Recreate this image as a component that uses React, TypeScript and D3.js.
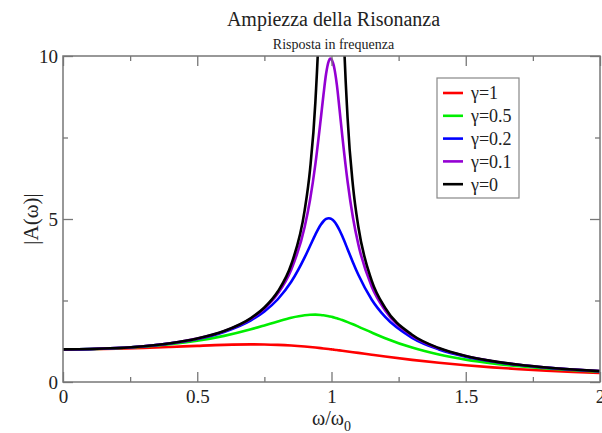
import { useEffect, useRef } from 'react'
import * as d3 from 'd3'

const W = 602
const H = 433

// omega / omega0 sample points
const xs = [0, 0.1, 0.2, 0.3, 0.4, 0.5, 0.6, 0.7, 0.75, 0.8, 0.85, 0.9, 0.92, 0.94, 0.96, 0.97, 0.98, 0.99, 0.995, 1.0,
  1.005, 1.01, 1.02, 1.03, 1.04, 1.06, 1.08, 1.1, 1.15, 1.2, 1.3, 1.4, 1.5, 1.6, 1.7, 1.8, 1.9, 2.0]

const g1 = [1, 1.005, 1.0198, 1.0436, 1.0748, 1.1094, 1.1399, 1.1546, 1.1517, 1.1399, 1.1184, 1.0871, 1.0721, 1.0558, 1.0382, 1.029, 1.0196, 1.0099, 1.005, 1,
  0.995, 0.9899, 0.9796, 0.9692, 0.9586, 0.937, 0.9151, 0.893, 0.8373, 0.7824, 0.6795, 0.5891, 0.5121, 0.4475, 0.3934, 0.348, 0.3098, 0.2774]

const g05 = [1, 1.0088, 1.0361, 1.0843, 1.1581, 1.2649, 1.4148, 1.6167, 1.7354, 1.8582, 1.9701, 2.0472, 2.062, 2.0653, 2.0561, 2.0467, 2.0342, 2.0186, 2.0096, 2.0,
  1.9897, 1.9786, 1.9547, 1.9283, 1.8998, 1.8375, 1.7697, 1.6986, 1.5168, 1.344, 1.0549, 0.8417, 0.686, 0.5704, 0.4825, 0.4142, 0.36, 0.3162]

const g02 = [1, 1.0099, 1.0408, 1.0965, 1.1851, 1.3216, 1.5357, 1.8908, 2.1621, 2.5384, 3.0728, 3.8208, 4.1722, 4.5225, 4.8218, 4.931, 5.001, 5.0252, 5.0188, 5.0,
  4.9689, 4.9261, 4.8086, 4.6552, 4.4756, 4.075, 3.6675, 3.288, 2.5245, 1.9952, 1.3562, 1.0, 0.7779, 0.6279, 0.5207, 0.4408, 0.3791, 0.3304]

const g01 = [1, 1.01, 1.0414, 1.0983, 1.1891, 1.3304, 1.5557, 1.9426, 2.2528, 2.7116, 3.4455, 4.7565, 5.5852, 6.6837, 8.068, 8.8038, 9.4609, 9.85, 9.92, 9.9,
  9.8, 9.65, 9.115, 8.3572, 7.5648, 6.1414, 5.0409, 4.2182, 2.9206, 2.1926, 1.4242, 1.0308, 0.7943, 0.6377, 0.527, 0.445, 0.3821, 0.3326]

// undamped: diverges at omega = omega0
const g0 = [1, 1.0101, 1.0417, 1.0989, 1.1905, 1.3333, 1.5625, 1.9608, 2.2857, 2.7778, 3.6036, 5.2632, 6.5104, 8.5911, 12.755, 16.92, 25.253, 50.251, 100.25, null,
  99.75, 49.751, 24.752, 16.42, 12.255, 8.0906, 6.0096, 4.7619, 3.1008, 2.2727, 1.4493, 1.0417, 0.8, 0.641, 0.5291, 0.4464, 0.3831, 0.3333]

const labels = ['γ=1', 'γ=0.5', 'γ=0.2', 'γ=0.1', 'γ=0']
const colors = ['#ff0000', '#00ee00', '#0000ff', '#9400d3', '#000000']
const series = [g1, g05, g02, g01, g0]

const xTicks = [0, 0.5, 1, 1.5, 2]
const xMinor = [0.25, 0.75, 1.25, 1.75]
const yTicks = [0, 5, 10]
const yMinor = [2.5, 7.5]

const FONT = '"Liberation Serif", "DejaVu Serif", serif'

export default function App() {
  const svgRef = useRef<SVGSVGElement>(null)

  useEffect(() => {
    document.body.style.margin = '0'
    if (!svgRef.current) return
    const svg = d3.select(svgRef.current)
    svg.selectAll('*').remove()

    const left = 63, right = 600, top = 56, bottom = 382
    const x = d3.scaleLinear().domain([0, 2]).range([left, right])
    const y = d3.scaleLinear().domain([0, 10]).range([bottom, top])

    svg.append('rect').attr('width', W).attr('height', H).attr('fill', '#fff')

    svg.append('defs').append('clipPath').attr('id', 'plot')
      .append('rect').attr('x', left).attr('y', top).attr('width', right - left).attr('height', bottom - top)

    // curves
    const line = d3.line<number | null>()
      .defined(d => d !== null)
      .x((_, i) => x(xs[i]))
      .y(d => y(d as number))
      .curve(d3.curveMonotoneX)

    const curves = svg.append('g').attr('clip-path', 'url(#plot)')
    series.forEach((s, i) => {
      curves.append('path')
        .attr('d', line(s))
        .attr('fill', 'none')
        .attr('stroke', colors[i])
        .attr('stroke-width', 2.6)
        .attr('stroke-linejoin', 'round')
    })

    // frame + ticks
    const axisColor = '#777'
    const styleAxis = (g: any) => {
      g.select('.domain').remove()
      g.selectAll('line').attr('stroke', axisColor).attr('stroke-width', 1.3)
      g.selectAll('text').attr('font-family', FONT).attr('font-size', 19).attr('fill', '#222')
    }

    svg.append('g').attr('transform', `translate(0,${bottom})`)
      .call(d3.axisBottom(x).tickValues(xTicks).tickSize(-10).tickSizeOuter(0).tickPadding(8).tickFormat(d3.format('')) as any)
      .call(styleAxis)
    svg.append('g').attr('transform', `translate(0,${bottom})`)
      .call(d3.axisBottom(x).tickValues(xMinor).tickSize(-5).tickFormat(() => '') as any)
      .call(styleAxis)
    svg.append('g').attr('transform', `translate(0,${top})`)
      .call(d3.axisTop(x).tickValues(xTicks).tickSize(-10).tickFormat(() => '') as any)
      .call(styleAxis)
    svg.append('g').attr('transform', `translate(0,${top})`)
      .call(d3.axisTop(x).tickValues(xMinor).tickSize(-5).tickFormat(() => '') as any)
      .call(styleAxis)

    svg.append('g').attr('transform', `translate(${left},0)`)
      .call(d3.axisLeft(y).tickValues(yTicks).tickSize(-10).tickPadding(5).tickFormat(d3.format('')) as any)
      .call(styleAxis)
    svg.append('g').attr('transform', `translate(${left},0)`)
      .call(d3.axisLeft(y).tickValues(yMinor).tickSize(-5).tickFormat(() => '') as any)
      .call(styleAxis)
    svg.append('g').attr('transform', `translate(${right},0)`)
      .call(d3.axisRight(y).tickValues(yTicks).tickSize(-10).tickFormat(() => '') as any)
      .call(styleAxis)
    svg.append('g').attr('transform', `translate(${right},0)`)
      .call(d3.axisRight(y).tickValues(yMinor).tickSize(-5).tickFormat(() => '') as any)
      .call(styleAxis)

    svg.append('rect')
      .attr('x', left).attr('y', top).attr('width', right - left).attr('height', bottom - top)
      .attr('fill', 'none').attr('stroke', axisColor).attr('stroke-width', 1.5)

    // titles
    const cx = (left + right) / 2
    svg.append('text').attr('x', cx + 2).attr('y', 26).attr('text-anchor', 'middle')
      .attr('font-family', FONT).attr('font-size', 20).attr('fill', '#222')
      .text('Ampiezza della Risonanza')
    svg.append('text').attr('x', cx + 2).attr('y', 49).attr('text-anchor', 'middle')
      .attr('font-family', FONT).attr('font-size', 14).attr('fill', '#222')
      .text('Risposta in frequenza')

    const xl = svg.append('text').attr('x', cx).attr('y', 425).attr('text-anchor', 'middle')
      .attr('font-family', FONT).attr('font-size', 20).attr('fill', '#222')
    xl.append('tspan').text('ω/ω')
    xl.append('tspan').attr('dy', 6).attr('font-size', 14).text('0')

    svg.append('text').attr('transform', `translate(31,${(top + bottom) / 2}) rotate(-90)`)
      .attr('text-anchor', 'middle').attr('dy', '0.35em')
      .attr('font-family', FONT).attr('font-size', 21).attr('fill', '#222')
      .text('|A(ω)|')

    // legend
    const lg = svg.append('g')
    lg.append('rect').attr('x', 437).attr('y', 78).attr('width', 82).attr('height', 120)
      .attr('fill', '#fff').attr('stroke', '#888').attr('stroke-width', 1.2)
    labels.forEach((lab, i) => {
      const ly = 93 + i * 22.8
      lg.append('line').attr('x1', 443).attr('x2', 463).attr('y1', ly).attr('y2', ly)
        .attr('stroke', colors[i]).attr('stroke-width', 2.6)
      lg.append('text').attr('x', 471).attr('y', ly).attr('dy', '0.35em')
        .attr('font-family', FONT).attr('font-size', 18).attr('fill', '#222')
        .text(lab)
    })
  }, [])

  return <svg ref={svgRef} width={W} height={H} style={{ display: 'block' }} />
}
